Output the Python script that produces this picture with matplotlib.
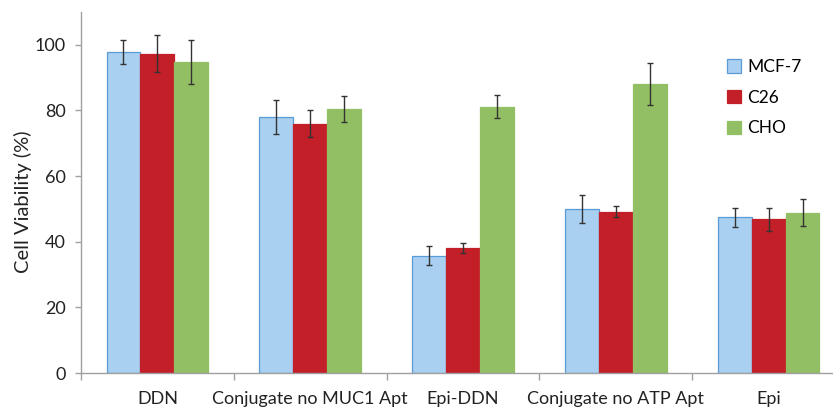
import matplotlib
matplotlib.use("Agg")
import matplotlib.pyplot as plt
import numpy as np

categories = ["DDN", "Conjugate no MUC1 Apt", "Epi-DDN", "Conjugate no ATP Apt", "Epi"]
series = ["MCF-7", "C26", "CHO"]
mcf7 = [97.8, 78.0, 35.8, 49.9, 47.5]
c26 = [97.3, 75.9, 38.1, 49.2, 46.8]
cho = [94.8, 80.4, 81.2, 88.2, 48.9]
mcf7_err = [3.6, 5.2, 2.8, 4.2, 2.9]
c26_err = [5.7, 4.1, 1.5, 1.7, 3.5]
cho_err = [6.6, 3.9, 3.5, 6.4, 4.1]
yticks = [0, 20, 40, 60, 80, 100]

plt.rcParams['font.family'] = ['Lato', 'DejaVu Sans']

W, H = 833, 408
fig = plt.figure(figsize=(W / 100, H / 100), dpi=100)
ax = fig.add_axes([81 / W, 35 / H, (845 - 81) / W, (373 - 12) / H])

face = ["#A9D0F0", "#C21F28", "#93BF64"]
edge = ["#5B9BD5", "#C21F28", "#93BF64"]
vals = [mcf7, c26, cho]
errs = [mcf7_err, c26_err, cho_err]
x = np.arange(len(categories))
bw = 0.222
for i in range(3):
    ax.bar(x + (i - 1) * bw, vals[i], width=bw, color=face[i], edgecolor=edge[i],
           linewidth=0.9, label=series[i], zorder=2)
    ax.errorbar(x + (i - 1) * bw, vals[i], yerr=errs[i], fmt='none', ecolor="#333333",
                elinewidth=1.0, capsize=2.5, capthick=1.0, zorder=3)

ax.set_xlim(-0.5, len(categories) - 0.5)
ax.set_ylim(0, 110)
ax.set_yticks(yticks)
ax.set_xticks(x)
ax.set_xticklabels(categories, fontsize=13)
ax.set_xticks(np.arange(len(categories)) - 0.5, minor=True)
ax.tick_params(axis='x', which='major', length=0, pad=13, colors='#222222')
ax.tick_params(axis='x', which='minor', length=5, color='#A0A0A0', width=1)
ax.tick_params(axis='y', length=4, width=1, labelsize=13, pad=7, colors='#222222')
ax.tick_params(axis='y', color='#A0A0A0')
for s in ['top', 'right']:
    ax.spines[s].set_visible(False)
for s in ['left', 'bottom']:
    ax.spines[s].set_color('#A0A0A0')
    ax.spines[s].set_linewidth(1)
ax.set_ylabel("Cell Viability (%)", fontsize=14.5, color='#222222', va='center')
ax.yaxis.set_label_coords((23 - 81) / (845 - 81), (373 - 202) / (373 - 12))

ax.legend(loc='upper left', bbox_to_anchor=((720 - 81) / (845 - 81), (373 - 52) / (373 - 12)),
          frameon=False, fontsize=12.5, handlelength=0.8, handleheight=0.8,
          labelspacing=0.85, handletextpad=0.35, borderaxespad=0)

fig.savefig("out.png", dpi=100)
